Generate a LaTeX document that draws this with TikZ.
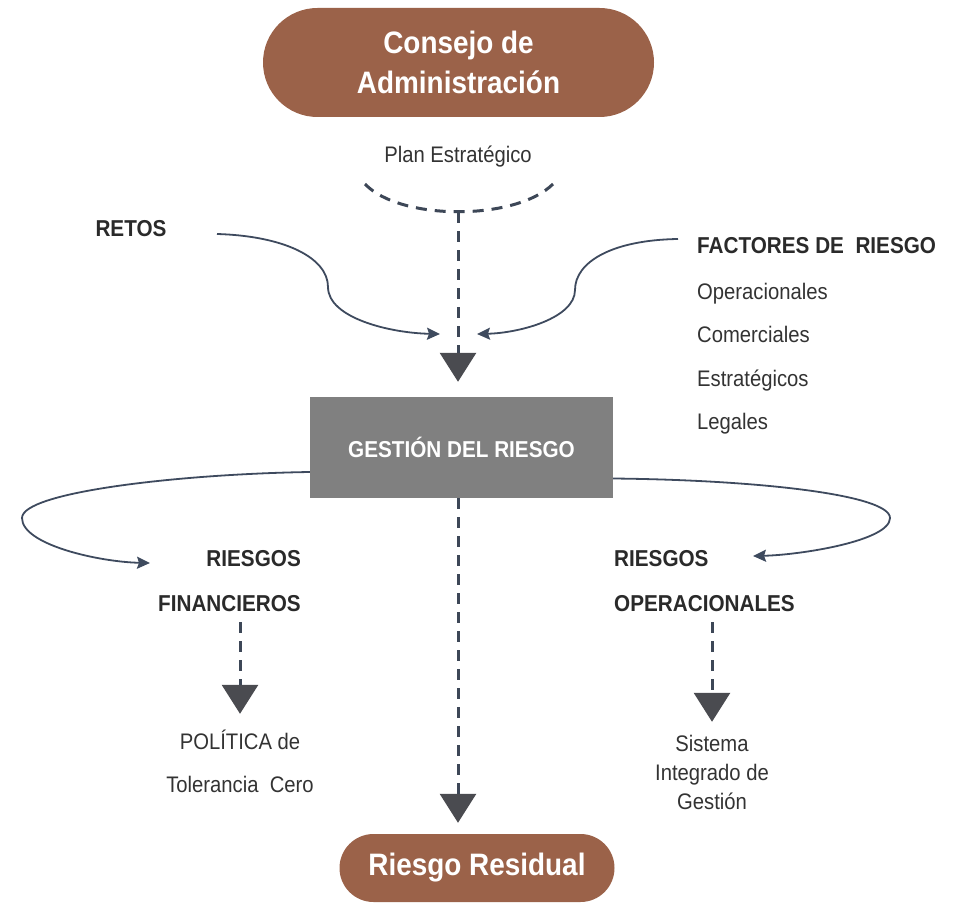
\documentclass[tikz,border=0pt]{standalone}
\usepackage{fontspec}
\setmainfont{Liberation Sans}[FakeStretch=0.9]
\usetikzlibrary{arrows.meta,shapes.misc,calc}
\definecolor{pillbrown}{HTML}{9B6249}
\definecolor{boxgray}{HTML}{808080}
\definecolor{dashcol}{HTML}{3D4757}
\definecolor{curvecol}{HTML}{3E4A5E}
\definecolor{tricol}{HTML}{4A4B50}
\definecolor{txtcol}{HTML}{333333}
\definecolor{boldcol}{HTML}{2A2A2A}
\begin{document}
\begin{tikzpicture}[x=1pt,y=-1pt,
  pill/.style={rounded rectangle, fill=pillbrown, text=white, align=center,
    font=\bfseries\fontsize{31}{40}\selectfont, inner sep=0pt},
  gbox/.style={rectangle, fill=boxgray, text=white, minimum width=303pt, minimum height=101pt,
    font=\bfseries\fontsize{23}{27}\selectfont, inner sep=0pt},
  lbl/.style={inner sep=0pt, text height=16pt, text depth=0pt, text=txtcol,
    font=\fontsize{22.5}{27}\selectfont},
  blbl/.style={inner sep=0pt, text height=16.5pt, text depth=0pt, text=boldcol,
    font=\bfseries\fontsize{23}{27}\selectfont},
  dashline/.style={draw=dashcol, line width=3pt, dash pattern=on 11pt off 8pt},
  bigtri/.style={-{Triangle[width=36pt,length=29pt,fill=tricol,color=tricol]}},
  curve/.style={draw=curvecol, line width=1.8pt, -{Stealth[length=13pt,width=12pt,inset=2pt]}}
]
\useasboundingbox (0,0) rectangle (966,904);

% top pill
\node[pill, minimum width=391pt, minimum height=109pt] (consejo) at (458.5,62.5) {Consejo de\\Administración};
\node[lbl] (plan) at (458,155) {Plan Estratégico};

% dashed arc
\coordinate (arcL) at (365,184);
\coordinate (arcR) at (553,184);
\coordinate (arcM) at (458,212);
\draw[dashline] (arcL) .. controls (400,221) and (516,221) .. (arcR);

% central box
\node[gbox] (gestion) at (461.5,447.5) {GESTIÓN DEL RIESGO};

% bottom pill
\node[pill, minimum width=275pt, minimum height=68pt] (residual) at (477,868) {Riesgo Residual};

% central dashed arrows
\draw[dashline, bigtri, shorten >=15pt] (arcM) -- (gestion.north -| arcM);
\draw[dashline, bigtri, shorten >=11pt] (gestion.south -| arcM) -- (residual.north -| arcM);

% RETOS
\node[blbl] (retos) at (131,228) {RETOS};
\coordinate (retosStart) at (217,234);
\coordinate (retosTip) at (440,334);
\draw[curve] (retosStart) .. controls (285,236) and (328,258) .. (328,287)
  .. controls (328,318) and (390,333) .. (retosTip);

% FACTORES DE RIESGO
\node[blbl, anchor=west] (factores) at (697,245) {FACTORES DE\ \ RIESGO};
\node[lbl, anchor=west] (f1) at (697,291) {Operacionales};
\node[lbl, anchor=west] (f2) at (697,334) {Comerciales};
\node[lbl, anchor=west] (f3) at (697,378) {Estratégicos};
\node[lbl, anchor=west] (f4) at (697,421) {Legales};
\coordinate (factStart) at (678,239);
\coordinate (factTip) at (477,334);
\draw[curve] (factStart) .. controls (612,240) and (575,262) .. (575,290)
  .. controls (575,318) and (520,333) .. (factTip);

% left branch
\node[blbl, anchor=east] (rf1) at (301,558) {RIESGOS};
\node[blbl, anchor=east] (rf2) at (301,603) {FINANCIEROS};
\node[lbl] (pol) at (240,741) {POLÍTICA de};
\node[lbl] (tol) at (240,784) {Tolerancia\ \ Cero};
\coordinate (lTip) at (150,563);
\draw[curve] ($(gestion.west)+(0,24.5)$) .. controls (180,474) and (22,492) .. (22,518)
  .. controls (22,545) and (100,562) .. (lTip);
\coordinate (fdash) at (240,622);
\draw[dashline, bigtri, shorten >=19pt] (fdash) -- (pol.north);

% right branch
\node[blbl, anchor=west] (ro1) at (614,558) {RIESGOS};
\node[blbl, anchor=west] (ro2) at (614,603) {OPERACIONALES};
\node[lbl] (sis) at (712,743) {Sistema};
\node[lbl] (integ) at (712,772) {Integrado de};
\node[lbl] (gest) at (712,801) {Gestión};
\coordinate (rTip) at (753,556);
\draw[curve] ($(gestion.east)+(0,31)$) .. controls (760,480) and (890,495) .. (890,518)
  .. controls (890,541) and (800,555) .. (rTip);
\coordinate (odash) at (712,622);
\draw[dashline, bigtri, shorten >=13pt] (odash) -- (sis.north);
\end{tikzpicture}
\end{document}
